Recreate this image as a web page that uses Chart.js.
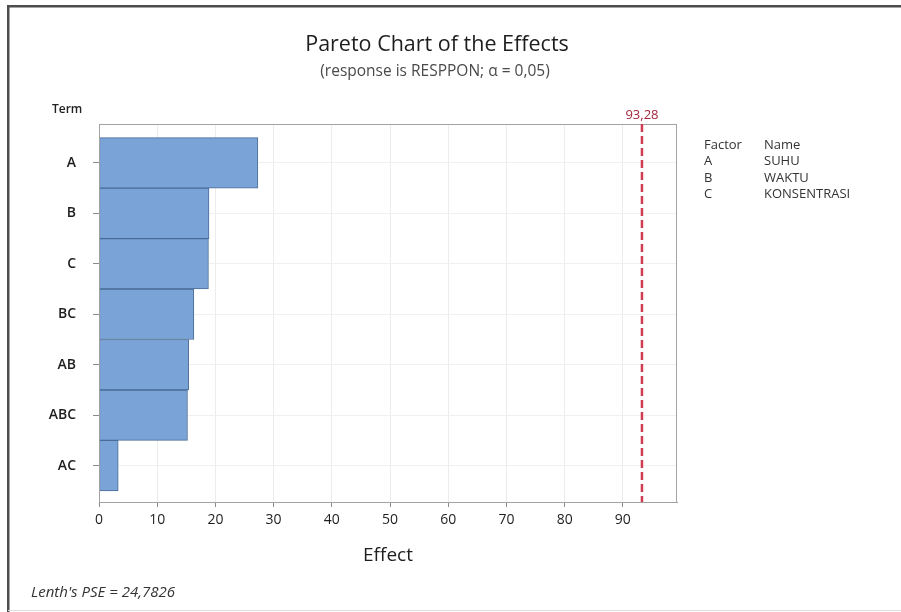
<!DOCTYPE html>
<html>
<head>
<meta charset="utf-8">
<script src="https://cdn.jsdelivr.net/npm/chart.js@4"></script>
<style>
  html, body { margin: 0; padding: 0; background: #ffffff; }
  #wrap { width: 901px; height: 612px; }
</style>
</head>
<body>
<div id="wrap"><canvas id="c" width="901" height="612"></canvas></div>
<script>
// ---- data ----
const terms = ['A', 'B', 'C', 'BC', 'AB', 'ABC', 'AC'];
const effects = [27.3, 18.9, 18.8, 16.3, 15.4, 15.2, 3.3];
const xTickValues = [0, 10, 20, 30, 40, 50, 60, 70, 80, 90];
const criticalValue = 93.28;
const criticalLabel = '93,28';
const factorCodes = ['A', 'B', 'C'];
const factorNames = ['SUHU', 'WAKTU', 'KONSENTRASI'];
const titleText = 'Pareto Chart of the Effects';
const subtitleText = '(response is RESPPON; \u03B1 = 0,05)';
const footnoteText = "Lenth's PSE = 24,7826";

const FONT = "'Open Sans', 'Noto Sans', sans-serif";

const extras = {
  id: 'extras',
  afterDatasetsDraw(chart) {
    const {ctx, chartArea: a, scales} = chart;
    ctx.save();
    // plot frame
    ctx.strokeStyle = '#a3a3a3';
    ctx.lineWidth = 1;
    ctx.strokeRect(a.left + 0.5, a.top + 0.5, a.right - a.left - 1, a.bottom - a.top);
    // critical value line
    const xp = scales.x.getPixelForValue(criticalValue);
    ctx.strokeStyle = '#cf3d52';
    ctx.lineWidth = 2.5;
    ctx.setLineDash([8, 4]);
    ctx.beginPath();
    ctx.moveTo(xp, a.top);
    ctx.lineTo(xp, a.bottom);
    ctx.stroke();
    ctx.setLineDash([]);
    ctx.fillStyle = '#a3273a';
    ctx.font = "13px " + FONT;
    ctx.textAlign = 'center';
    ctx.textBaseline = 'middle';
    ctx.fillText(criticalLabel, xp, a.top - 9);
    ctx.restore();
  },
  afterDraw(chart) {
    const {ctx} = chart;
    ctx.save();
    ctx.fillStyle = '#1e1e1e';
    ctx.textBaseline = 'middle';
    ctx.textAlign = 'center';
    ctx.font = "21.5px " + FONT;
    ctx.fillText(titleText, 437, 45);
    ctx.fillStyle = '#4a4a4a';
    ctx.font = "15.5px " + FONT;
    ctx.fillText(subtitleText, 435, 72);
    // Term label
    ctx.textAlign = 'left';
    ctx.fillStyle = '#222';
    ctx.font = "600 12px " + FONT;
    ctx.fillText('Term', 52, 110);
    // legend table
    ctx.font = "13px " + FONT;
    ctx.fillStyle = '#333';
    ctx.fillText('Factor', 704, 145);
    ctx.fillText('Name', 764, 145);
    factorCodes.forEach((f, i) => {
      const y = 161.5 + i * 16.5;
      ctx.fillText(f, 704, y);
      ctx.fillText(factorNames[i], 764, y);
    });
    // footnote
    ctx.font = "italic 15px " + FONT;
    ctx.fillStyle = '#333';
    ctx.fillText(footnoteText, 31, 593);
    // outer frame
    ctx.fillStyle = '#4d4d4d';
    ctx.fillRect(8, 5, 901 - 8, 2.5);
    ctx.fillRect(7, 5, 2.5, 612 - 5);
    ctx.fillStyle = '#dddddd';
    ctx.fillRect(8, 610, 901 - 8, 1);
    ctx.restore();
  }
};

new Chart(document.getElementById('c'), {
  type: 'bar',
  data: {
    datasets: [{
      data: effects.map((v, i) => ({x: v, y: i})),
      backgroundColor: '#7aa4d8',
      borderColor: '#4a6b96',
      borderWidth: 1,
      borderSkipped: false,
      barPercentage: 1.0,
      categoryPercentage: 1.0
    }]
  },
  options: {
    indexAxis: 'y',
    responsive: false,
    animation: false,
    devicePixelRatio: 1,
    layout: { padding: { left: 39, right: 224, top: 124, bottom: 45 } },
    plugins: { legend: { display: false }, tooltip: { enabled: false }, title: { display: false } },
    scales: {
      x: {
        type: 'linear',
        position: 'bottom',
        min: 0,
        max: 99.3,
        afterBuildTicks: (s) => { s.ticks = xTickValues.map(v => ({value: v})); },
        afterFit: (s) => { s.height = 65; },
        ticks: { color: '#1e1e1e', font: { family: FONT, size: 14 }, padding: 5, maxRotation: 0 },
        grid: { color: '#ececec', tickColor: '#8a8a8a', tickLength: 5, drawTicks: true },
        border: { display: true, color: '#a3a3a3', width: 1 },
        title: { display: true, text: 'Effect', color: '#1e1e1e', font: { family: FONT, size: 19 }, padding: { top: 4, bottom: 0 } }
      },
      y: {
        type: 'linear',
        reverse: true,
        offset: false,
        min: -0.77,
        max: 6.72,
        afterBuildTicks: (s) => { s.ticks = terms.map((t, i) => ({value: i})); },
        afterFit: (s) => { s.width = 60; },
        ticks: {
          color: '#1e1e1e',
          font: { family: FONT, size: 14, weight: '600' },
          padding: 17,
          callback: (v) => terms[v]
        },
        grid: { offset: false, color: '#f0f0f0', tickColor: '#8a8a8a', tickLength: 6, drawTicks: true },
        border: { display: true, color: '#a3a3a3', width: 1 }
      }
    }
  },
  plugins: [extras]
});
</script>
</body>
</html>
